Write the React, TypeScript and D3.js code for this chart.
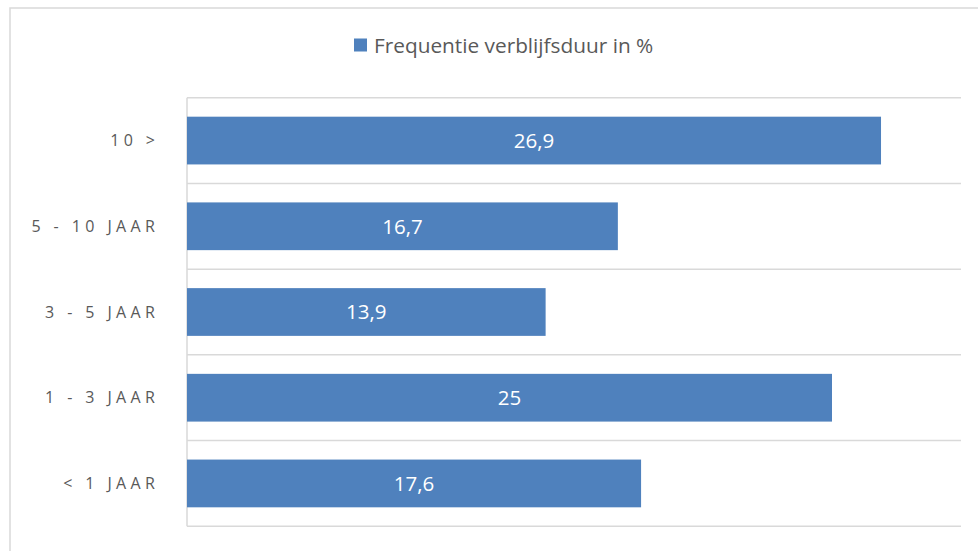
import React from "react";
import * as d3 from "d3";

const categories = ["10 >", "5 - 10 JAAR", "3 - 5 JAAR", "1 - 3 JAAR", "< 1 JAAR"];
const values = [26.9, 16.7, 13.9, 25, 17.6];
const valueLabels = ["26,9", "16,7", "13,9", "25", "17,6"];
const legendLabel = "Frequentie verblijfsduur in %";
const xDomain = [0, 30];

const W = 978;
const H = 551;
const plot = { left: 187, right: 961, top: 97.7, bottom: 526.3 };
const barColor = "#4F81BD";
const gridColor = "#D9D9D9";
const font = "'Open Sans', sans-serif";

export default function App() {
  const x = d3.scaleLinear().domain(xDomain).range([plot.left, plot.right]);
  const y = d3.scaleBand().domain(categories).range([plot.top, plot.bottom]).padding(0);
  const step = y.bandwidth();
  const barH = step * 0.557;
  const gridYs = d3.range(categories.length + 1).map((i) => plot.top + i * step);
  const ls = 4.4;

  return (
    <svg
      width={W}
      height={H}
      style={{ position: "absolute", left: 0, top: 0, background: "#fff" }}
      fontFamily={font}
    >
      <rect x={10} y={8} width={W + 10} height={H + 10} fill="#fff" stroke={gridColor} strokeWidth={1.5} />
      {/* legend */}
      <rect x={354} y={38.5} width={13} height={13} fill={barColor} />
      <text x={374} y={53} fontSize={20.8} fill="#595959">
        {legendLabel}
      </text>
      {/* grid */}
      {gridYs.map((gy, i) => (
        <line key={i} x1={plot.left} x2={plot.right} y1={gy} y2={gy} stroke={gridColor} strokeWidth={1.5} />
      ))}
      <line x1={plot.left} x2={plot.left} y1={plot.top} y2={plot.bottom} stroke={gridColor} strokeWidth={1.5} />
      {/* bars */}
      {categories.map((c, i) => {
        const yc = (y(c) as number) + step / 2;
        return (
          <g key={c}>
            <rect x={x(0)} y={yc - barH / 2} width={x(values[i]) - x(0)} height={barH} fill={barColor} />
            <text
              x={(x(0) + x(values[i])) / 2}
              y={yc}
              dy="0.36em"
              textAnchor="middle"
              fontSize={20.5}
              fill="#fff"
            >
              {valueLabels[i]}
            </text>
            <text
              x={155 + ls}
              y={yc}
              dy="0.36em"
              textAnchor="end"
              fontSize={16}
              letterSpacing={ls}
              fill="#595959"
            >
              {c}
            </text>
          </g>
        );
      })}
    </svg>
  );
}
